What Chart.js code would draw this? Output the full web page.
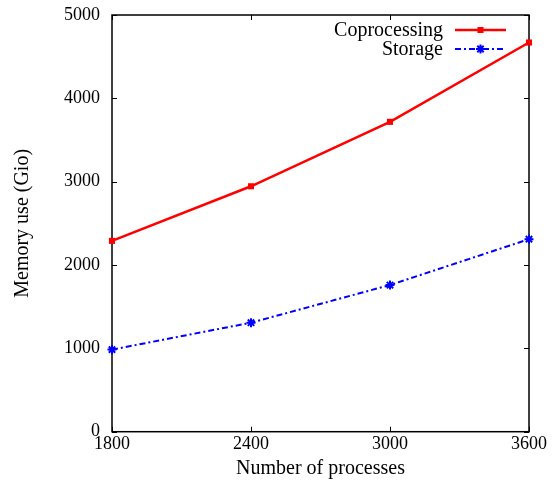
<!DOCTYPE html>
<html>
<head>
<meta charset="utf-8">
<script src="https://cdn.jsdelivr.net/npm/chart.js@4/dist/chart.umd.min.js"></script>
<style>
  html, body { margin: 0; padding: 0; background: #fff; }
  #wrap { width: 557px; height: 489px; }
</style>
</head>
<body>
<div id="wrap"><canvas id="c" width="557" height="489"></canvas></div>
<script>
const processes = [1800, 2400, 3000, 3600];
const coprocessing = [2290, 2945, 3718, 4670];
const storage = [985, 1308, 1760, 2310];
const xTicks = [1800, 2400, 3000, 3600];
const yTicks = [0, 1000, 2000, 3000, 4000, 5000];

const FONT = '"Liberation Serif", "DejaVu Serif", serif';
const TICK_FS = 18;
const TEXT_FS = 20;

const framePlugin = {
  id: 'frame',
  beforeDatasetsDraw(chart) {
    const {ctx, chartArea: a, scales} = chart;
    ctx.save();
    ctx.strokeStyle = '#000';
    ctx.lineWidth = 1.5;
    ctx.strokeRect(a.left, a.top, a.right - a.left, a.bottom - a.top);
    ctx.lineWidth = 1;
    const tl = 5;
    xTicks.forEach(v => {
      const x = Math.round(scales.x.getPixelForValue(v)) + 0.5;
      ctx.beginPath();
      ctx.moveTo(x, a.bottom); ctx.lineTo(x, a.bottom - tl);
      ctx.moveTo(x, a.top); ctx.lineTo(x, a.top + tl);
      ctx.stroke();
    });
    yTicks.forEach(v => {
      const y = Math.round(scales.y.getPixelForValue(v)) + 0.5;
      ctx.beginPath();
      ctx.moveTo(a.left, y); ctx.lineTo(a.left + tl, y);
      ctx.moveTo(a.right, y); ctx.lineTo(a.right - tl, y);
      ctx.stroke();
    });
    ctx.restore();
  },
  afterDraw(chart) {
    const {ctx} = chart;
    ctx.save();
    chart.data.datasets.forEach((ds, i) => {
      const y = 30 + 19 * i;
      const cx = 480.5;
      ctx.font = TEXT_FS + 'px ' + FONT;
      ctx.fillStyle = '#000';
      ctx.textAlign = 'right';
      ctx.textBaseline = 'middle';
      ctx.fillText(ds.label, 443, y + 1);
      ctx.strokeStyle = ds.borderColor;
      ctx.lineWidth = ds.borderWidth;
      ctx.setLineDash(ds.borderDash || []);
      ctx.beginPath();
      ctx.moveTo(455, y); ctx.lineTo(506, y);
      ctx.stroke();
      ctx.setLineDash([]);
      ctx.fillStyle = ds.borderColor;
      ctx.strokeStyle = ds.borderColor;
      ctx.lineWidth = ds.pointBorderWidth || 1;
      ctx.beginPath();
      if (ds.pointStyle === 'rect') {
        const s = Math.SQRT1_2 * ds.pointRadius;
        ctx.fillRect(cx - s, y - s, 2 * s, 2 * s);
      } else {
        const r = ds.pointRadius;
        for (let k = 0; k < 4; k++) {
          const ang = k * Math.PI / 4;
          ctx.moveTo(cx - r * Math.cos(ang), y - r * Math.sin(ang));
          ctx.lineTo(cx + r * Math.cos(ang), y + r * Math.sin(ang));
        }
        ctx.stroke();
      }
    });
    ctx.restore();
  }
};

new Chart(document.getElementById('c'), {
  type: 'line',
  data: {
    datasets: [
      {
        label: 'Coprocessing',
        data: processes.map((p, i) => ({x: p, y: coprocessing[i]})),
        borderColor: '#ff0000',
        backgroundColor: '#ff0000',
        borderWidth: 2.5,
        pointStyle: 'rect',
        pointRadius: 4.3,
        pointBorderWidth: 0,
        pointBackgroundColor: '#ff0000',
        tension: 0,
        clip: false
      },
      {
        label: 'Storage',
        data: processes.map((p, i) => ({x: p, y: storage[i]})),
        borderColor: '#0000ff',
        backgroundColor: '#0000ff',
        borderWidth: 2,
        borderDash: [6, 3, 2, 3],
        pointStyle: 'star',
        pointRadius: 4.5,
        pointBorderWidth: 2,
        pointBorderColor: '#0000ff',
        tension: 0,
        clip: false
      }
    ]
  },
  plugins: [framePlugin],
  options: {
    responsive: false,
    animation: false,
    layout: { padding: { top: 15, right: 28, bottom: 0, left: 0 } },
    plugins: { legend: { display: false }, tooltip: { enabled: false } },
    scales: {
      x: {
        type: 'linear',
        min: 1800, max: 3600,
        afterBuildTicks(s) { s.ticks = xTicks.map(v => ({value: v})); },
        afterFit(s) { s.height = 57.3; s.paddingLeft = 0; s.paddingRight = 0; },
        grid: { display: false, drawTicks: false },
        border: { display: false },
        ticks: { color: '#000', font: { family: FONT, size: TICK_FS }, padding: 2, maxRotation: 0, autoSkip: false, callback: v => String(v) },
        title: { display: true, text: 'Number of processes', color: '#000', font: { family: FONT, size: TEXT_FS }, padding: { top: 0, bottom: 8 } }
      },
      y: {
        min: 0, max: 5000,
        afterBuildTicks(s) { s.ticks = yTicks.map(v => ({value: v})); },
        afterFit(s) { s.width = 112; s.paddingTop = 0; s.paddingBottom = 0; },
        grid: { display: false, drawTicks: false },
        border: { display: false },
        ticks: { color: '#000', font: { family: FONT, size: TICK_FS }, padding: 12, callback: v => String(v) },
        title: { display: true, text: 'Memory use (Gio)', color: '#000', font: { family: FONT, size: TEXT_FS }, padding: { top: 11, bottom: 0 } }
      }
    }
  }
});
</script>
</body>
</html>
